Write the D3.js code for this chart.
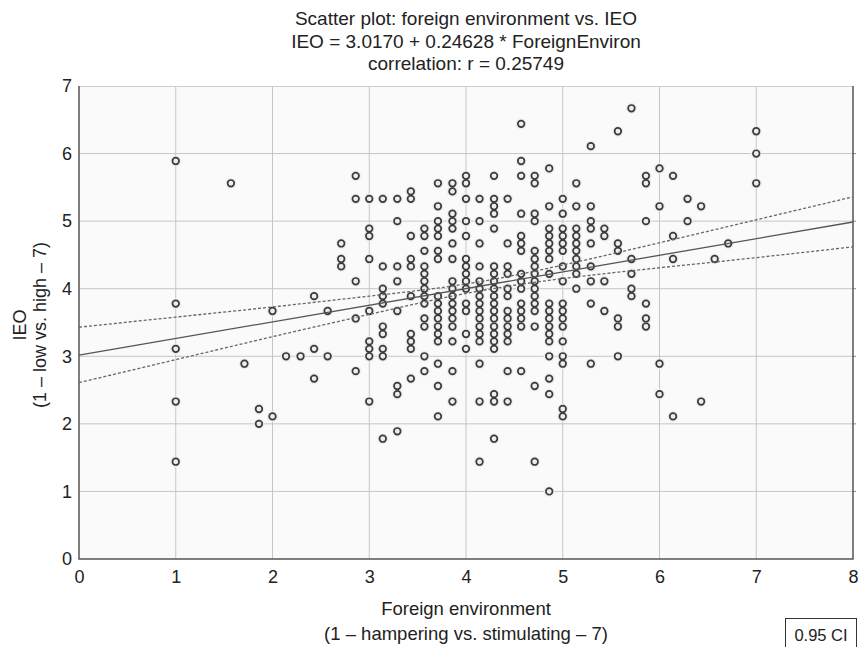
<!DOCTYPE html>
<html>
<head>
<meta charset="utf-8">
<script src="https://cdn.jsdelivr.net/npm/d3@7"></script>
<style>
    body { margin: 0; background: #fff; }
    text { font-family: "Liberation Sans", Arial, sans-serif; fill: #222; }
</style>
</head>
<body>
<svg id="chart" width="861" height="647"></svg>
<script>
const titleLines = [
    'Scatter plot: foreign environment vs. IEO',
    'IEO = 3.0170 + 0.24628 * ForeignEnviron',
    'correlation: r = 0.25749'
];
const xTicks = [0, 1, 2, 3, 4, 5, 6, 7, 8];
const yTicks = [0, 1, 2, 3, 4, 5, 6, 7];

// regression from the title
const intercept = 3.0170;
const slope = 0.24628;

// 0.95 confidence band
const ciX = [0, 1, 2, 3, 4, 5, 6, 7, 8];
const ciUpper = [3.43, 3.58, 3.73, 3.89, 4.07, 4.35, 4.68, 5.02, 5.36];
const ciLower = [2.61, 2.95, 3.29, 3.62, 3.93, 4.15, 4.31, 4.46, 4.62];

// scatter points, grouped by x column
const foreignEnv = [1.00, 1.57, 1.71, 1.86, 2.00, 2.14, 2.29, 2.43, 2.57, 2.71, 2.86,
    3.00, 3.14, 3.29, 3.43, 3.57, 3.71, 3.86, 4.00, 4.14, 4.29, 4.43, 4.57, 4.71, 4.86,
    5.00, 5.14, 5.29, 5.43, 5.57, 5.71, 5.86, 6.00, 6.14, 6.29, 6.43, 6.57, 6.71, 7.00];
const ieo = [
    [5.89, 3.78, 3.11, 2.33, 1.44],
    [5.56],
    [2.89],
    [2.22, 2.00],
    [3.67, 2.11],
    [3.00],
    [3.00],
    [3.89, 3.11, 2.67],
    [3.67, 3.00],
    [4.67, 4.44, 4.33],
    [5.67, 5.33, 4.11, 3.56, 2.78],
    [5.33, 4.89, 4.78, 4.44, 3.67, 3.22, 3.11, 3.00, 2.33],
    [5.33, 4.33, 4.00, 3.89, 3.78, 3.44, 3.33, 3.11, 3.00, 1.78],
    [5.33, 5.00, 4.33, 4.11, 3.67, 2.56, 2.44, 1.89],
    [5.44, 5.33, 4.78, 4.44, 4.33, 3.89, 3.33, 3.22, 3.11, 2.67],
    [4.89, 4.78, 4.56, 4.33, 4.22, 4.11, 4.00, 3.89, 3.78, 3.56, 3.44, 3.00, 2.78],
    [5.56, 5.22, 5.00, 4.89, 4.78, 4.56, 4.44, 3.89, 3.78, 3.67, 3.56, 3.44, 3.33, 3.22, 2.89, 2.56, 2.11],
    [5.56, 5.44, 5.11, 5.00, 4.89, 4.67, 4.44, 4.11, 4.00, 3.89, 3.78, 3.67, 3.56, 3.44, 3.22, 2.78, 2.33],
    [5.67, 5.56, 5.33, 5.00, 4.78, 4.44, 4.33, 4.22, 4.11, 4.00, 3.78, 3.67, 3.33, 3.11],
    [5.33, 5.00, 4.67, 4.33, 4.11, 4.00, 3.89, 3.78, 3.67, 3.56, 3.44, 3.33, 3.22, 2.89, 2.33, 1.44],
    [5.67, 5.33, 5.22, 5.11, 4.89, 4.33, 4.22, 4.11, 4.00, 3.89, 3.78, 3.67, 3.56, 3.44, 3.33, 3.22, 3.11, 2.44, 2.33, 1.78],
    [5.33, 4.67, 4.33, 4.22, 4.00, 3.89, 3.67, 3.56, 3.44, 3.33, 3.22, 2.78, 2.33],
    [6.44, 5.89, 5.67, 5.11, 4.78, 4.67, 4.56, 4.22, 4.11, 4.00, 3.78, 3.67, 3.56, 3.44, 2.78],
    [5.67, 5.56, 5.11, 5.00, 4.56, 4.44, 4.33, 4.22, 4.11, 4.00, 3.89, 3.78, 3.67, 3.44, 2.56, 1.44],
    [5.78, 5.22, 4.89, 4.78, 4.67, 4.56, 4.44, 4.22, 3.78, 3.67, 3.56, 3.44, 3.33, 3.22, 3.00, 2.67, 2.44, 1.00],
    [5.33, 5.11, 4.89, 4.78, 4.67, 4.56, 4.33, 4.11, 3.78, 3.67, 3.56, 3.44, 3.22, 3.00, 2.89, 2.22, 2.11],
    [5.56, 5.22, 4.89, 4.78, 4.67, 4.56, 4.44, 4.33, 4.22, 4.00],
    [6.11, 5.22, 5.00, 4.89, 4.67, 4.33, 4.11, 3.78, 2.89],
    [4.89, 4.78, 4.11, 3.67],
    [6.33, 4.67, 4.56, 3.56, 3.44, 3.00],
    [6.67, 4.44, 4.22, 4.00, 3.89],
    [5.67, 5.56, 5.00, 3.78, 3.56, 3.44],
    [5.78, 5.22, 2.89, 2.44],
    [5.67, 4.78, 4.44, 2.11],
    [5.33, 5.00],
    [5.22, 2.33],
    [4.44],
    [4.67],
    [6.33, 6.00, 5.56]
];

const plot = { left: 79, right: 853, top: 86, bottom: 559 };

const svg = d3.select('#chart');

const x = d3.scaleLinear().domain([0, 8]).range([plot.left, plot.right]);
const y = d3.scaleLinear().domain([0, 7]).range([plot.bottom, plot.top]);

// title
svg.append('g')
    .selectAll('text')
    .data(titleLines)
    .enter()
    .append('text')
    .attr('x', (plot.left + plot.right) / 2)
    .attr('y', (d, i) => 25 + i * 22.5)
    .attr('text-anchor', 'middle')
    .style('font-size', '19px')
    .text(d => d);

// plot background
svg.append('rect')
    .attr('x', plot.left)
    .attr('y', plot.top)
    .attr('width', plot.right - plot.left)
    .attr('height', plot.bottom - plot.top)
    .attr('fill', '#fafafa');

// grid
svg.append('g')
    .selectAll('line')
    .data(xTicks.slice(1, -1))
    .enter()
    .append('line')
    .attr('x1', d => x(d)).attr('x2', d => x(d))
    .attr('y1', plot.top).attr('y2', plot.bottom)
    .attr('stroke', '#c6c6c6');

svg.append('g')
    .selectAll('line')
    .data(yTicks.slice(1, -1))
    .enter()
    .append('line')
    .attr('x1', plot.left).attr('x2', plot.right)
    .attr('y1', d => y(d)).attr('y2', d => y(d))
    .attr('stroke', '#c6c6c6');

// small ticks on the right edge
svg.append('g')
    .selectAll('line')
    .data(yTicks.slice(1, -1))
    .enter()
    .append('line')
    .attr('x1', plot.right).attr('x2', plot.right + 3)
    .attr('y1', d => y(d)).attr('y2', d => y(d))
    .attr('stroke', '#888');

// frame
svg.append('line')
    .attr('x1', plot.left).attr('x2', plot.right)
    .attr('y1', plot.top + 0.5).attr('y2', plot.top + 0.5)
    .attr('stroke', '#cfcfcf');
svg.append('path')
    .attr('d', `M${plot.left},${plot.top}V${plot.bottom}H${plot.right}V${plot.top}`)
    .attr('fill', 'none')
    .attr('stroke', '#555')
    .attr('stroke-width', 1.5);

// axes
const xAxis = svg.append('g')
    .attr('transform', `translate(0,${plot.bottom})`)
    .call(d3.axisBottom(x).tickValues(xTicks).tickFormat(d3.format('d')).tickSize(0).tickPadding(11));
const yAxis = svg.append('g')
    .attr('transform', `translate(${plot.left},0)`)
    .call(d3.axisLeft(y).tickValues(yTicks).tickFormat(d3.format('d')).tickSize(0).tickPadding(7));
[xAxis, yAxis].forEach(a => {
    a.select('.domain').remove();
    a.selectAll('text').style('font-size', '18px').attr('fill', '#222');
});

// axis titles
svg.append('text')
    .attr('x', (plot.left + plot.right) / 2)
    .attr('y', 615)
    .attr('text-anchor', 'middle')
    .style('font-size', '18.5px')
    .text('Foreign environment');
svg.append('text')
    .attr('x', (plot.left + plot.right) / 2)
    .attr('y', 640)
    .attr('text-anchor', 'middle')
    .style('font-size', '18.5px')
    .text('(1 \u2013 hampering vs. stimulating \u2013 7)');

const yMid = 325;
svg.append('text')
    .attr('transform', `translate(26,${yMid}) rotate(-90)`)
    .attr('text-anchor', 'middle')
    .style('font-size', '18px')
    .text('IEO');
svg.append('text')
    .attr('transform', `translate(46,${yMid}) rotate(-90)`)
    .attr('text-anchor', 'middle')
    .style('font-size', '18px')
    .text('(1 \u2013 low vs. high \u2013 7)');

// points
const points = [];
foreignEnv.forEach((fx, i) => {
    ieo[i].forEach(v => points.push({ x: fx, y: v }));
});

svg.append('g')
    .selectAll('circle')
    .data(points)
    .enter()
    .append('circle')
    .attr('cx', d => x(d.x))
    .attr('cy', d => y(d.y))
    .attr('r', 5.5)
    .attr('fill', '#ededed');

svg.append('g')
    .selectAll('circle')
    .data(points)
    .enter()
    .append('circle')
    .attr('cx', d => x(d.x))
    .attr('cy', d => y(d.y))
    .attr('r', 3.3)
    .attr('fill', 'none')
    .attr('stroke', '#3a3a3a')
    .attr('stroke-width', 1.7);

// regression line and confidence band
svg.append('line')
    .attr('x1', x(0)).attr('y1', y(intercept))
    .attr('x2', x(8)).attr('y2', y(intercept + slope * 8))
    .attr('stroke', '#555')
    .attr('stroke-width', 1.3);

const ciLine = d3.line()
    .x(d => x(d[0]))
    .y(d => y(d[1]))
    .curve(d3.curveNatural);

[ciUpper, ciLower].forEach(band => {
    svg.append('path')
        .datum(ciX.map((cx, i) => [cx, band[i]]))
        .attr('d', ciLine)
        .attr('fill', 'none')
        .attr('stroke', '#666')
        .attr('stroke-width', 1.3)
        .attr('stroke-dasharray', '3,2');
});

// legend box
svg.append('rect')
    .attr('x', 785.5)
    .attr('y', 618.5)
    .attr('width', 71)
    .attr('height', 34)
    .attr('fill', '#fff')
    .attr('stroke', '#333');
svg.append('text')
    .attr('x', 821)
    .attr('y', 641)
    .attr('text-anchor', 'middle')
    .style('font-size', '16.5px')
    .text('0.95 CI');
</script>
</body>
</html>
